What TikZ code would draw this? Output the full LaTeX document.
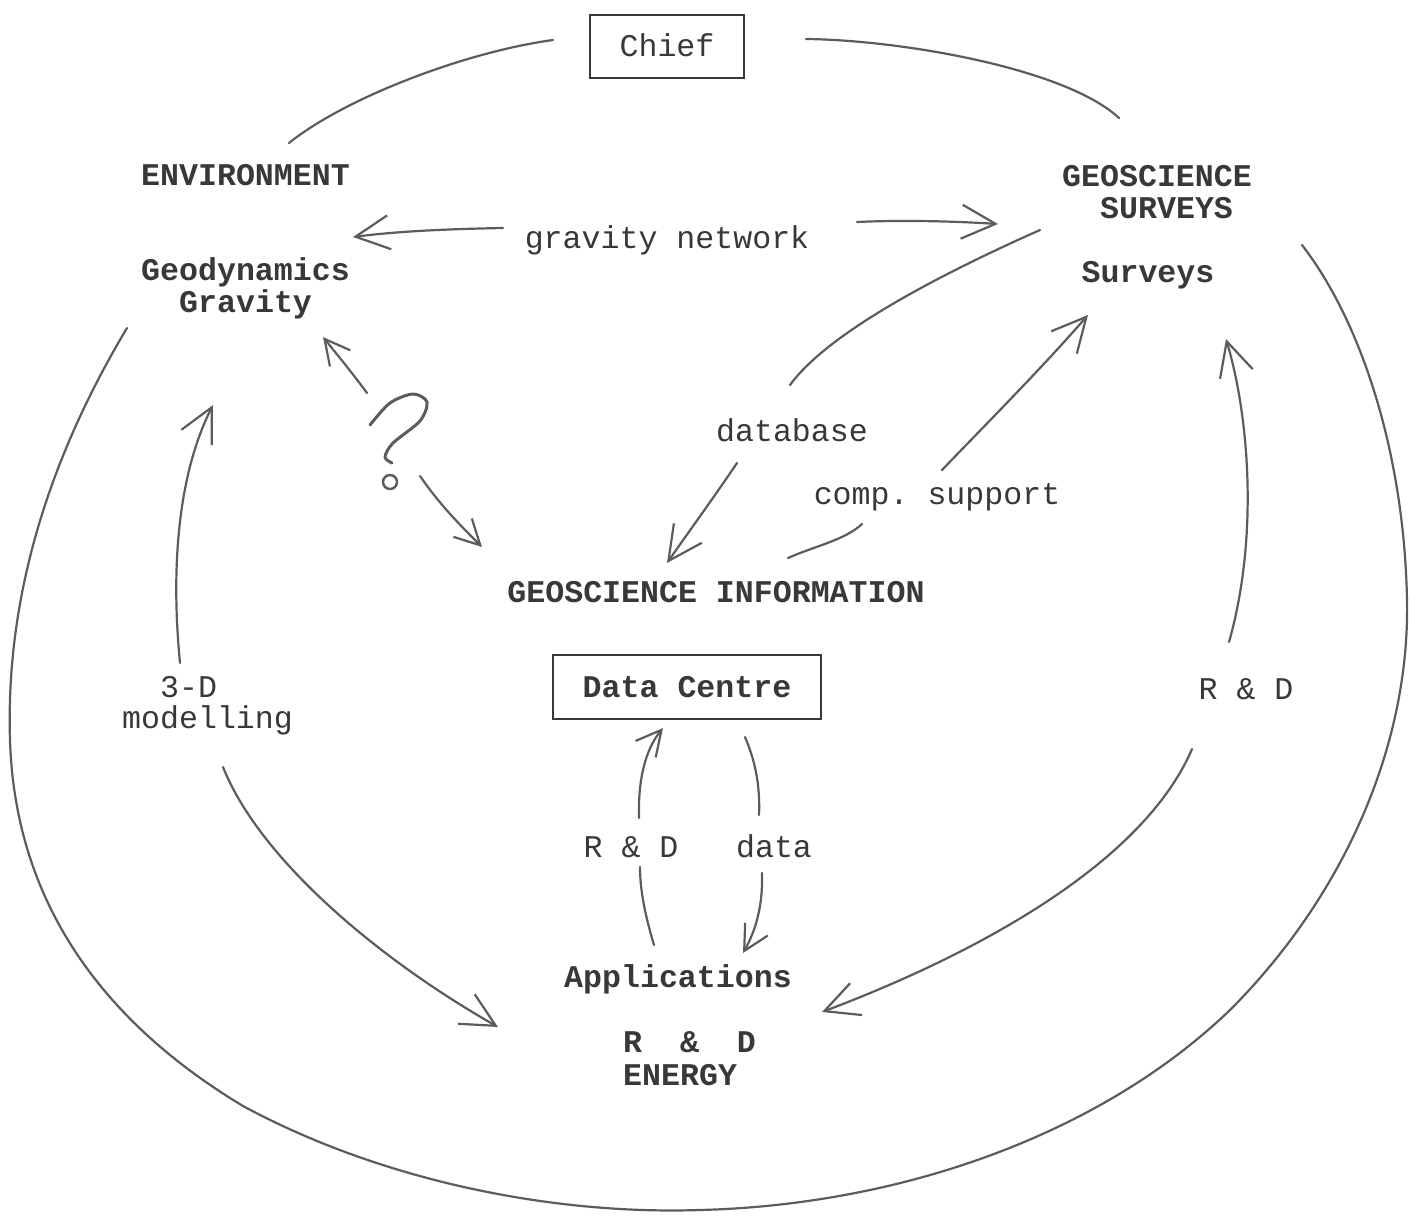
\documentclass[tikz,border=0pt]{standalone}
\usepackage{fontspec}
\newfontfamily\tw{Liberation Mono}
\usetikzlibrary{arrows.meta}
\definecolor{ink}{HTML}{383838}
\definecolor{pen}{HTML}{5C5C5C}
\begin{document}
\frenchspacing
\begin{tikzpicture}[x=1pt,y=-1pt,
  lbl/.style={font=\tw\fontsize{31.6}{32}\selectfont, text=ink, inner sep=0pt},
  blbl/.style={font=\tw\bfseries\fontsize{31.6}{32}\selectfont, text=ink, inner sep=0pt},
  boxnode/.style={draw=ink, line width=2pt, inner sep=0pt},
  pen/.style={draw=pen, line width=2.2pt, line cap=round, line join=round},
  tip/.style={-{Straight Barb[length=34pt,width=34pt]}},
  smalltip/.style={-{Straight Barb[length=25pt,width=26pt]}}]
\useasboundingbox (0,0) rectangle (1410,1222);

% ---- nodes ----
\node[boxnode, minimum width=154pt, minimum height=63pt] (chiefbox) at (667,47) {};
\node[lbl, anchor=base] (chief) at (667,57) {Chief};
\node[blbl, anchor=base west] (env) at (141,186) {ENVIRONMENT};
\node[blbl, anchor=base west] (geo1) at (1062,187) {GEOSCIENCE};
\node[blbl, anchor=base west] (geo2) at (1100,219) {SURVEYS};
\node[lbl, anchor=base] (grav) at (667,249) {gravity network};
\node[blbl, anchor=base west] (geod) at (141,281) {Geodynamics};
\node[blbl, anchor=base west] (gravity) at (179,313) {Gravity};
\node[blbl, anchor=base] (surveys) at (1148,283) {Surveys};
\node[lbl, anchor=base] (database) at (792,441) {database};
\node[lbl, anchor=base] (comp) at (937,504) {comp. support};
\node[blbl, anchor=base] (gi) at (716,602) {GEOSCIENCE INFORMATION};
\node[boxnode, minimum width=268pt, minimum height=64pt] (dcbox) at (687,687) {};
\node[blbl, anchor=base] (dc) at (687,697) {Data Centre};
\node[lbl, anchor=base west] (threed) at (160,697) {3-D};
\node[lbl, anchor=base west] (model) at (122,728) {modelling};
\node[lbl, anchor=base] (rdright) at (1246,699) {R \& D};
\node[lbl, anchor=base] (rdleft) at (631,857) {R \& D};
\node[lbl, anchor=base] (data) at (774,857) {data};
\node[blbl, anchor=base] (apps) at (678,987) {Applications};
\node[blbl, anchor=base west] (rd) at (623,1052) {R~~\&~~D};
\node[blbl, anchor=base west] (energy) at (623,1085) {ENERGY};

% ---- connector end points ----
\coordinate (tlA) at (289,143);  \coordinate (tlB) at (553,40);
\coordinate (trA) at (806,39);   \coordinate (trB) at (1119,118);
\coordinate (gnL0) at (503,228); \coordinate (gnL1) at (353,237);
\coordinate (gnR0) at (857,222); \coordinate (gnR1) at (998,224);
\coordinate (dbA) at (790,385);  \coordinate (dbB) at (1040,230);
\coordinate (db0) at (737,463);  \coordinate (db1) at (667,563);
\coordinate (cs0) at (942,470);  \coordinate (cs1) at (1088,315);
\coordinate (csA) at (788,558);  \coordinate (csB) at (862,524);
\coordinate (q10) at (367,393);  \coordinate (q11) at (323,337);
\coordinate (q20) at (420,476);  \coordinate (q21) at (482,547);
\coordinate (m0) at (180,663);   \coordinate (m1) at (213,405);
\coordinate (m2) at (223,767);   \coordinate (m3) at (498,1027);
\coordinate (r0) at (1192,749);  \coordinate (r1) at (822,1012);
\coordinate (s0) at (1229,642);  \coordinate (s1) at (1226,339);
\coordinate (a0) at (654,945);   \coordinate (a1) at (640,867);
\coordinate (a2) at (639,818);   \coordinate (a3) at (663,728);
\coordinate (d0) at (745,737);   \coordinate (d1) at (759,815);
\coordinate (d2) at (762,873);   \coordinate (d3) at (743,953);
\coordinate (oA) at (127,328);   \coordinate (oB) at (1302,245);

% ---- connectors ----
\draw[pen] (tlA) .. controls (345,98) and (465,52) .. (tlB);
\draw[pen] (trA) .. controls (900,40) and (1065,68) .. (trB);
\draw[pen, tip] (gnL0) .. controls (450,229) and (400,231) .. (gnL1);
\draw[pen, tip] (gnR0) .. controls (900,220) and (950,221) .. (gnR1);
\draw[pen] (dbA) .. controls (830,330) and (950,270) .. (dbB);
\draw[pen, tip] (db0) .. controls (712,500) and (690,530) .. (db1);
\draw[pen, tip] (cs0) .. controls (990,420) and (1040,370) .. (cs1);
\draw[pen] (csA) .. controls (815,546) and (845,540) .. (csB);
\draw[pen, smalltip] (q10) .. controls (350,370) and (335,352) .. (q11);
\draw[pen, smalltip] (q20) .. controls (440,505) and (460,525) .. (q21);
\draw[pen, tip] (m0) .. controls (170,560) and (180,470) .. (m1);
\draw[pen, tip] (m2) .. controls (260,860) and (380,960) .. (m3);
\draw[pen, tip] (r0) .. controls (1140,870) and (960,960) .. (r1);
\draw[pen, tip] (s0) .. controls (1258,540) and (1250,420) .. (s1);
\draw[pen] (a0) .. controls (645,915) and (640,890) .. (a1);
\draw[pen, smalltip] (a2) .. controls (638,780) and (645,750) .. (a3);
\draw[pen] (d0) .. controls (757,765) and (760,790) .. (d1);
\draw[pen, smalltip] (d2) .. controls (763,905) and (756,930) .. (d3);
\draw[pen] (oA) .. controls (60,440) and (5,580) .. (10,740)
  .. controls (15,900) and (100,1020) .. (243,1106)
  .. controls (380,1180) and (550,1215) .. (700,1210)
  .. controls (900,1205) and (1100,1135) .. (1230,1010)
  .. controls (1340,900) and (1410,750) .. (1407,600)
  .. controls (1404,450) and (1360,320) .. (oB);

% ---- question mark ----
\draw[pen, line width=3pt] plot[smooth] coordinates {(370,425) (390,403) (413,394) (427,402) (420,421) (393,443) (385,457) (392,463)};
\draw[pen, line width=2.5pt] (390,482) circle (7);
\end{tikzpicture}
\end{document}
